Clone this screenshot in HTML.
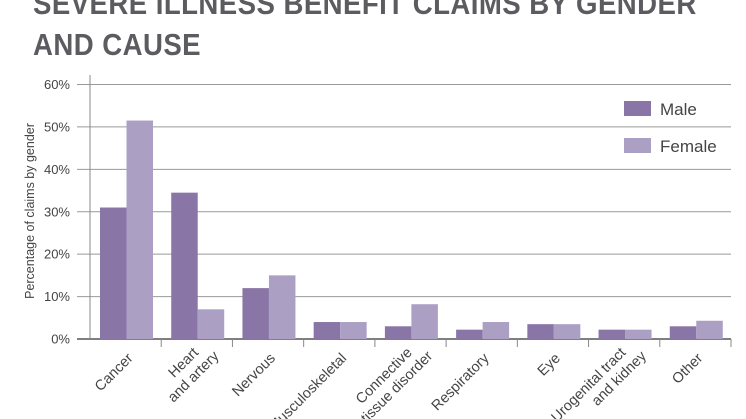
<!DOCTYPE html>
<html><head><meta charset="utf-8"><style>
body{margin:0;background:#fff;width:746px;height:419px;overflow:hidden;font-family:"Liberation Sans",sans-serif}
.t{position:absolute;left:33px;font-weight:bold;color:#5b5b60;font-size:31px;line-height:31px;transform:scaleX(0.89);transform-origin:left top;white-space:nowrap;letter-spacing:0.5px}
</style></head><body>
<div class="t" style="top:-12px">SEVERE ILLNESS BENEFIT CLAIMS BY GENDER</div>
<div class="t" style="top:29px">AND CAUSE</div>
<svg id="c" width="746" height="419" style="position:absolute;left:0;top:0"></svg>
<script>
const categories=[["Cancer"],["Heart","and artery"],["Nervous"],["Musculoskeletal"],["Connective","tissue disorder"],["Respiratory"],["Eye"],["Urogenital tract","and kidney"],["Other"]];
const maleValues=[31,34.5,12,4,3,2.2,3.5,2.2,3];
const femaleValues=[51.5,7,15,4,8.2,4,3.5,2.2,4.3];
const yTicks=[0,10,20,30,40,50,60];
const seriesNames=["Male","Female"];
const NS="http://www.w3.org/2000/svg",svg=document.getElementById('c');
const x0=90,x1=731,y0=339,yTop=84.5,ymax=60;
const y=v=>y0-(v/ymax)*(y0-yTop);
const cw=(x1-x0)/categories.length;
const xc=i=>x0+cw*i;
function mk(t,a,p){const e=document.createElementNS(NS,t);for(const k in a)e.setAttribute(k,a[k]);(p||svg).appendChild(e);return e;}
yTicks.forEach(v=>{
 const l=mk('line',{x1:77,x2:x1,y1:y(v),y2:y(v),stroke:v===0?'#555':'#999','stroke-width':v===0?1.5:1});
 
 
 const t=mk('text',{x:70,y:y(v)+4.5,'text-anchor':'end','font-size':13,fill:'#444'});
 t.textContent=v+'%';
 
 
});
const ax=mk('line',{x1:x0,x2:x0,y1:75,y2:y0,stroke:'#888'});


const yt=mk('text',{x:0,y:0,transform:'translate(34,211) rotate(-90)','text-anchor':'middle','font-size':12.5,fill:'#444'});
yt.textContent='Percentage of claims by gender';


const bw=26.5;
categories.forEach((c,i)=>{
 const bx=xc(i)+10;
 const m=mk('rect',{x:bx,y:y(maleValues[i]),width:bw,height:y0-y(maleValues[i]),fill:'#8a76a6'});
 
 
 const f=mk('rect',{x:bx+bw,y:y(femaleValues[i]),width:bw,height:y0-y(femaleValues[i]),fill:'#ac9fc4'});
 
 
 const tk=mk('line',{x1:xc(i+1),x2:xc(i+1),y1:y0,y2:y0+8,stroke:'#888'});
 
 
 const cx=xc(i)+cw/2+8, ly=y0+20;
 const g=mk('text',{transform:`translate(${cx},${ly}) rotate(-45)`,'text-anchor':'end','font-size':14.5,fill:'#444'});
 
 
 c.forEach((s,j)=>{const ts=mk('tspan',{x:(c.length===2&&j===1)?12:0,dy:j===0?(c.length===2?-8:0):17},g);ts.textContent=s;});
});
const lc=['#8a76a6','#ac9fc4'];
seriesNames.forEach((n,i)=>{
 const r=mk('rect',{x:624,y:101+i*37,width:27,height:15,fill:lc[i]});
 
 
 const t=mk('text',{x:660,y:115+i*37,'font-size':17,fill:'#444'});
 t.textContent=n;
 
 
});
</script>
</body></html>
